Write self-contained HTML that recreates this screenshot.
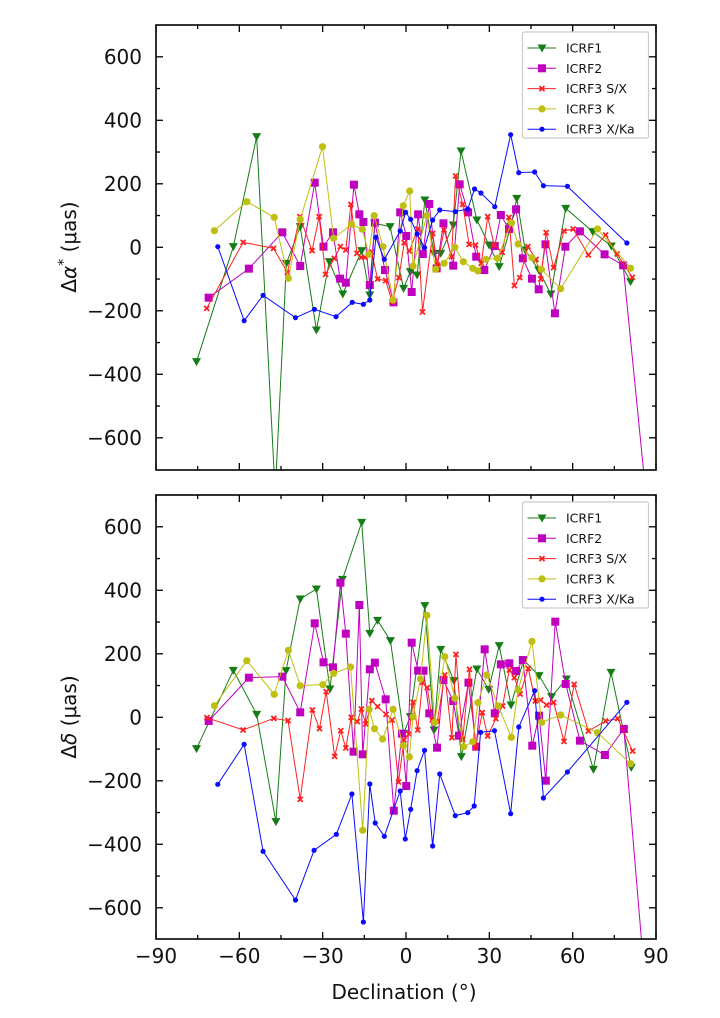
<!DOCTYPE html>
<html><head><meta charset="utf-8"><style>
html,body{margin:0;padding:0;background:#fff;width:720px;height:1018px;overflow:hidden}
svg{display:block}
text{font-family:"DejaVu Sans","Liberation Sans",sans-serif;fill:#111}
</style></head><body>
<svg id="s" width="720" height="1018" viewBox="0 0 720 1018" xmlns="http://www.w3.org/2000/svg">
<defs>
<clipPath id="c1"><rect x="156" y="25" width="500" height="445"/></clipPath>
<clipPath id="c2"><rect x="156" y="495" width="500" height="444"/></clipPath>
</defs>
<g id="d1" clip-path="url(#c1)"></g>
<g id="d2" clip-path="url(#c2)"></g>
<g id="ax"></g>
<text x="76" y="247" font-size="20" text-anchor="middle" transform="rotate(-90 76 247)">Δ<tspan font-style="italic">α</tspan><tspan dy="-8" font-size="14">*</tspan><tspan dy="8"> (μas)</tspan></text>
<text x="76" y="717" font-size="20" text-anchor="middle" transform="rotate(-90 76 717)">Δ<tspan font-style="italic">δ</tspan> (μas)</text>
<text x="404" y="999" font-size="20" text-anchor="middle">Declination (°)</text>
</svg>
<script>
(function(){
var NS="http://www.w3.org/2000/svg";
function el(p,t,a){var e=document.createElementNS(NS,t);for(var k in a)e.setAttribute(k,a[k]);p.appendChild(e);return e;}
var C={g:"#167d16",m:"#bf00bf",r:"#ff2020",y:"#bfbf10",b:"#0a0aff"};
function P(s){return s.trim().split(/\)\s*,?\s*\(/).map(function(q){q=q.replace(/[()]/g,'').split(',');return[+q[0],+q[1]];});}
var topD={
g:"(167,1025),(276,680),(345,350),(400,1420),(433,730),(474,620),(522,930),(560,725),(600,822),(656,692),(680,825),(695,610),(740,620),(780,805),(800,755),(820,765),(843,540),(870,700),(890,700),(927,615),(950,393),(997,600),(1033,675),(1063,740),(1097,620),(1115,535),(1140,690),(1180,750),(1216,822),(1260,565),(1340,635),(1395,678),(1452,785)",
m:"(203,833),(322,746),(421,637),(474,738),(517,488),(543,680),(571,637),(592,776),(609,788),(633,494),(649,583),(661,606),(680,795),(695,608),(725,750),(750,847),(770,577),(788,648),(804,816),(823,583),(837,702),(856,552),(878,745),(898,610),(927,737),(946,493),(971,577),(995,710),(1019,750),(1050,678),(1068,585),(1092,627),(1113,568),(1133,715),(1160,776),(1180,808),(1200,673),(1228,880),(1259,680),(1302,634),(1375,703),(1430,736),(1500,1450)",
r:"(197,865),(305,667),(395,685),(436,757),(473,590),(509,692),(530,590),(549,763),(575,715),(593,680),(609,690),(624,553),(642,700),(655,712),(666,712),(685,695),(703,777),(727,782),(746,845),(766,773),(782,668),(797,693),(822,627),(836,876),(866,640),(880,735),(900,630),(922,710),(934,468),(955,553),(974,673),(993,675),(1010,730),(1029,590),(1048,675),(1072,697),(1092,592),(1108,797),(1124,773),(1148,680),(1172,718),(1186,777),(1202,638),(1224,743),(1255,633),(1282,627),(1327,705),(1378,645),(1412,702),(1457,772)",
y:"(220,632),(316,545),(397,592),(439,775),(474,598),(540,380),(573,655),(626,613),(658,628),(677,703),(693,587),(719,680),(749,840),(779,557),(798,513),(808,738),(849,587),(875,748),(900,730),(932,682),(957,725),(985,745),(1000,753),(1024,718),(1058,715),(1099,608),(1119,672),(1160,713),(1188,748),(1245,806),(1354,627),(1452,745)",
b:"(230,680),(308,902),(364,826),(460,893),(516,868),(580,890),(628,847),(661,853),(680,840),(698,652),(723,718),(770,633),(786,577),(801,598),(820,642),(842,683),(866,600),(887,570),(933,575),(970,567),(990,507),(1009,519),(1050,560),(1097,344),(1121,458),(1168,456),(1194,497),(1265,499),(1441,669)"};
var botD={
g:"(167,776),(276,541),(345,673),(402,995),(432,542),(474,327),(522,297),(562,597),(599,268),(656,97),(680,430),(703,391),(741,452),(780,730),(800,680),(843,347),(870,720),(890,478),(929,572),(951,800),(997,537),(1032,598),(1063,467),(1098,645),(1135,510),(1181,557),(1218,620),(1262,567),(1342,838),(1394,547),(1454,832)",
m:"(203,693),(322,563),(421,560),(474,667),(517,400),(543,517),(571,532),(593,278),(609,431),(632,785),(649,345),(659,793),(680,538),(695,518),(727,628),(751,962),(775,731),(788,888),(804,458),(823,542),(839,542),(856,670),(879,773),(898,570),(927,633),(944,737),(972,578),(995,770),(1020,478),(1050,670),(1068,523),(1093,520),(1113,543),(1133,510),(1161,767),(1181,677),(1201,872),(1229,395),(1260,582),(1302,752),(1376,795),(1432,717),(1490,1420)",
r:"(198,683),(305,720),(396,685),(438,692),(474,928),(510,660),(531,716),(551,605),(576,799),(594,722),(609,774),(625,682),(643,695),(655,657),(668,702),(686,632),(703,650),(728,673),(746,690),(765,876),(781,750),(796,732),(808,637),(822,720),(836,577),(850,593),(865,690),(880,694),(902,555),(923,743),(935,493),(955,748),(975,538),(993,772),(1013,668),(1029,738),(1053,686),(1073,648),(1093,540),(1108,563),(1125,612),(1149,535),(1170,633),(1186,630),(1203,645),(1224,637),(1255,754),(1285,583),(1327,723),(1378,693),(1414,686),(1458,783)",
y:"(220,647),(316,512),(397,613),(439,481),(474,587),(541,584),(573,550),(623,531),(659,1021),(678,658),(694,716),(718,747),(749,658),(779,767),(797,801),(808,680),(830,567),(849,376),(872,697),(902,500),(932,625),(958,770),(985,755),(1000,638),(1026,555),(1060,648),(1099,742),(1119,600),(1160,454),(1189,697),(1245,675),(1354,728),(1452,821)",
b:"(230,883),(308,763),(364,1084),(460,1230),(515,1081),(581,1033),(627,912),(661,1296),(680,882),(696,999),(723,1039),(770,903),(785,1047),(801,958),(820,842),(842,781),(866,1068),(887,852),(933,977),(970,968),(989,948),(1008,727),(1049,722),(1097,971),(1121,711),(1168,602),(1194,924),(1265,846),(1441,637)"};
function mark(g,k,x,y){var c=C[k];
 if(k=="g")el(g,"path",{d:"M"+(x-4.5)+","+(y-3.5)+"h9l-4.5,8z",fill:c});
 else if(k=="m")el(g,"rect",{x:x-4,y:y-4,width:8,height:8,fill:c});
 else if(k=="r")el(g,"path",{d:"M"+(x-2.5)+","+(y-2.5)+"l5,5M"+(x+2.5)+","+(y-2.5)+"l-5,5",stroke:c,"stroke-width":1.8});
 else if(k=="y")el(g,"circle",{cx:x,cy:y,r:3.6,fill:c});
 else el(g,"circle",{cx:x,cy:y,r:2.6,fill:c});}
function panel(id,data,oy){var g=document.getElementById(id);
 ["g","m","r","y","b"].forEach(function(k){var p=P(data[k]).map(function(q){return[q[0]*0.3378+140.1,q[1]/3+oy];});
  el(g,"polyline",{points:p.map(function(q){return q.join(",")}).join(" "),fill:"none",stroke:C[k],"stroke-width":1});
  p.forEach(function(q){mark(g,k,q[0],q[1]);});});}
panel("d1",topD,20);panel("d2",botD,490);
var ax=document.getElementById("ax");
var X0=406,SX=500/180;
function frame(T,B,z0){
 el(ax,"rect",{x:156,y:T,width:500,height:B-T,fill:"none",stroke:"#000","stroke-width":1.6});
 for(var d=-90;d<=90;d+=15){var x=X0+d*SX,L=(d%30==0)?7:4;
  el(ax,"line",{x1:x,y1:B,x2:x,y2:B-L,stroke:"#000","stroke-width":1.3});
  el(ax,"line",{x1:x,y1:T,x2:x,y2:T+L,stroke:"#000","stroke-width":1.3});}
 for(var v=-700;v<=700;v+=100){var y=z0-v*0.3175;if(y<T+1||y>B-1)continue;var L=(v%200==0)?7:4;
  el(ax,"line",{x1:156,y1:y,x2:156+L,y2:y,stroke:"#000","stroke-width":1.3});
  el(ax,"line",{x1:656,y1:y,x2:656-L,y2:y,stroke:"#000","stroke-width":1.3});
  if(v%200==0){var t=el(ax,"text",{x:142,y:y+7,"font-size":20,"text-anchor":"end"});t.textContent=(v<0?"\u2212"+(-v):""+v);}}
 var lx=522.5,ly=T+7;
 el(ax,"rect",{x:lx,y:ly,width:126,height:106,fill:"#fff",stroke:"#ccc","stroke-width":1.2,rx:2});
 var names=["ICRF1","ICRF2","ICRF3 S/X","ICRF3 K","ICRF3 X/Ka"],ks=["g","m","r","y","b"];
 for(var i=0;i<5;i++){var yy=ly+16+i*20.3;
  el(ax,"line",{x1:527.5,y1:yy,x2:556,y2:yy,stroke:C[ks[i]],"stroke-width":1});mark(ax,ks[i],542,yy);
  var t=el(ax,"text",{x:566,y:yy+4.5,"font-size":12.5});t.textContent=names[i];}
}
frame(25,470,247.3);frame(495,939,717.3);
for(var d=-90;d<=90;d+=30){var t=el(ax,"text",{x:X0+d*SX,y:963,"font-size":20,"text-anchor":"middle"});t.textContent=(d<0?"\u2212"+(-d):""+d);}
})();
</script>
</body></html>
